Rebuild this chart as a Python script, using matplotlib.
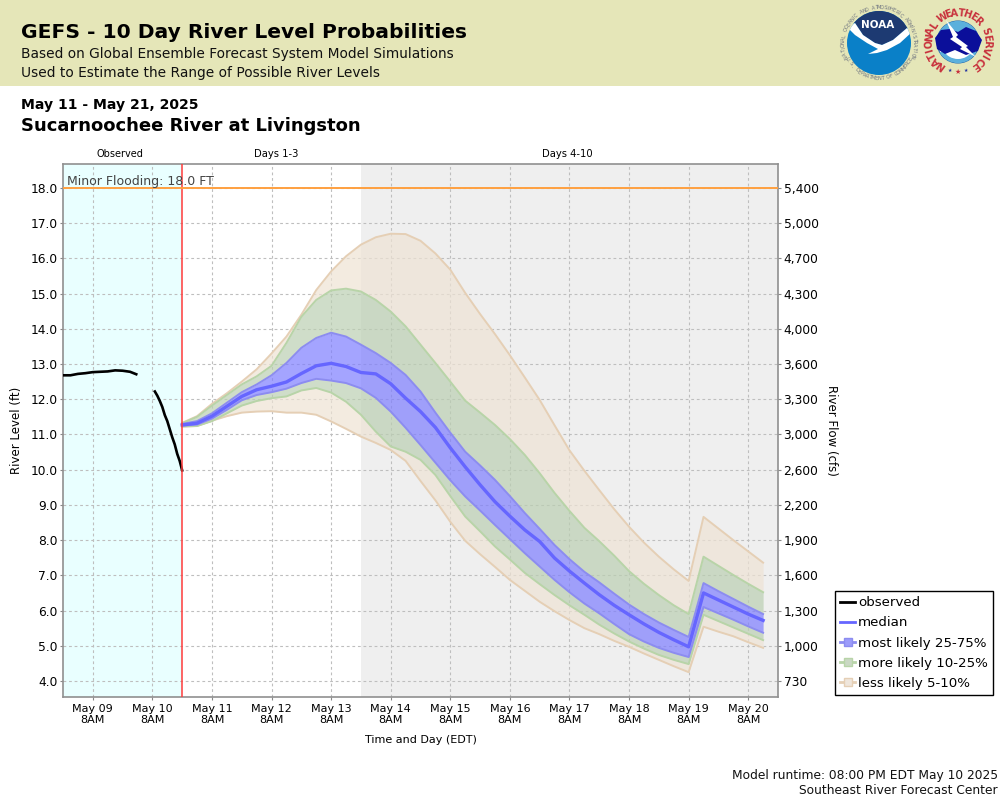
import matplotlib
matplotlib.use("Agg")
import numpy as np
import matplotlib.pyplot as plt
from matplotlib.lines import Line2D
from matplotlib.patches import Circle, Polygon, Rectangle, Wedge

# ---- data -------------------------------------------------------------
forecast_hours = [36, 42, 48, 54, 60, 66, 72, 78, 84, 90, 96, 102, 108, 114, 120, 126, 132, 138, 144, 150,
                  156, 162, 168, 174, 180, 186, 192, 198, 204, 210, 216, 222, 228, 234, 240, 246, 252, 258, 264, 270]
median = [11.27, 11.32, 11.52, 11.80, 12.08, 12.27, 12.37, 12.49, 12.73, 12.95, 13.02, 12.93, 12.76, 12.72, 12.44, 12.03, 11.65, 11.20, 10.62, 10.08,
          9.57, 9.09, 8.68, 8.29, 7.96, 7.49, 7.12, 6.78, 6.45, 6.15, 5.88, 5.62, 5.38, 5.17, 4.97, 6.50, 6.30, 6.10, 5.90, 5.72]
p75 = [11.30, 11.38, 11.60, 11.90, 12.20, 12.42, 12.68, 13.03, 13.46, 13.74, 13.89, 13.78, 13.55, 13.31, 13.03, 12.69, 12.22, 11.62, 11.05, 10.51,
       10.12, 9.71, 9.25, 8.77, 8.32, 7.86, 7.46, 7.10, 6.80, 6.48, 6.17, 5.90, 5.66, 5.45, 5.25, 6.78, 6.55, 6.33, 6.11, 5.90]
p25 = [11.25, 11.28, 11.45, 11.70, 11.97, 12.12, 12.20, 12.30, 12.46, 12.58, 12.53, 12.46, 12.31, 12.04, 11.65, 11.19, 10.70, 10.20, 9.70, 9.24,
       8.84, 8.43, 8.03, 7.63, 7.25, 6.87, 6.52, 6.20, 5.92, 5.62, 5.33, 5.12, 4.94, 4.80, 4.68, 6.10, 5.92, 5.74, 5.55, 5.37]
p90 = [11.32, 11.50, 11.82, 12.12, 12.42, 12.65, 12.95, 13.60, 14.34, 14.82, 15.09, 15.14, 15.06, 14.82, 14.49, 14.07, 13.55, 13.03, 12.50, 11.96,
       11.62, 11.27, 10.87, 10.42, 9.90, 9.34, 8.83, 8.35, 7.97, 7.56, 7.12, 6.76, 6.44, 6.15, 5.90, 7.53, 7.27, 7.01, 6.76, 6.52]
p10 = [11.23, 11.24, 11.38, 11.60, 11.82, 11.95, 12.03, 12.08, 12.25, 12.32, 12.19, 11.93, 11.56, 11.08, 10.66, 10.51, 10.28, 9.85, 9.25, 8.67,
       8.25, 7.82, 7.45, 7.07, 6.75, 6.44, 6.15, 5.88, 5.60, 5.35, 5.12, 4.92, 4.74, 4.60, 4.48, 5.88, 5.70, 5.52, 5.34, 5.16]
p95 = [11.33, 11.52, 11.87, 12.17, 12.50, 12.85, 13.30, 13.78, 14.40, 15.10, 15.63, 16.06, 16.39, 16.60, 16.70, 16.69, 16.50, 16.14, 15.68, 15.02,
       14.42, 13.85, 13.25, 12.62, 11.98, 11.26, 10.55, 9.97, 9.42, 8.88, 8.38, 7.93, 7.53, 7.17, 6.84, 8.66, 8.33, 8.00, 7.68, 7.36]
p05 = [11.22, 11.24, 11.39, 11.52, 11.62, 11.65, 11.66, 11.62, 11.62, 11.56, 11.37, 11.16, 10.94, 10.76, 10.56, 10.25, 9.68, 9.13, 8.52, 7.98,
       7.60, 7.24, 6.87, 6.56, 6.25, 5.98, 5.73, 5.50, 5.33, 5.14, 4.97, 4.78, 4.60, 4.42, 4.25, 5.54, 5.40, 5.27, 5.10, 4.94]
obs_hours_a = [-12, -9, -6, -3, 0, 3, 6, 9, 12, 15, 17.5]
obs_level_a = [12.68, 12.68, 12.72, 12.74, 12.77, 12.78, 12.79, 12.82, 12.81, 12.78, 12.71]
obs_hours_b = [25, 26, 27, 28, 29, 30, 31, 32, 33, 34, 35, 36]
obs_level_b = [12.22, 12.10, 11.95, 11.78, 11.55, 11.38, 11.15, 10.92, 10.72, 10.45, 10.25, 9.98]
flood_level = 18.0
level_ticks = [4, 5, 6, 7, 8, 9, 10, 11, 12, 13, 14, 15, 16, 17, 18]
flow_labels = ["730", "1,000", "1,300", "1,600", "1,900", "2,200", "2,600", "3,000",
               "3,300", "3,600", "4,000", "4,300", "4,700", "5,000", "5,400"]
day_hours = [0, 24, 48, 72, 96, 120, 144, 168, 192, 216, 240, 264]
day_labels = ["May 09", "May 10", "May 11", "May 12", "May 13", "May 14",
              "May 15", "May 16", "May 17", "May 18", "May 19", "May 20"]

# ---- colours ----------------------------------------------------------
TAN, TAN_E = "#EEE3D4", "#E5CFB5"
GREEN, GREEN_E = "#BBCFB2", "#B8D4A8"
BLUE, BLUE_E = "#7E7EFF", "#8C8CF0"
MED = "#6666FF"
plt.rcParams["font.family"] = "DejaVu Sans"

fig = plt.figure(figsize=(10, 8), dpi=100, facecolor="white")

# overlay in pixel coordinates for header, footer, logos
ov = fig.add_axes([0, 0, 1, 1], zorder=5)
ov.set_xlim(0, 1000)
ov.set_ylim(800, 0)
ov.axis("off")
ov.patch.set_alpha(0)
ov.add_patch(Rectangle((0, 0), 1000, 85.5, fc="#E5E6B8", ec="none", zorder=0))
ov.text(21, 33, "GEFS - 10 Day River Level Probabilities", fontsize=14.6, fontweight="bold", va="center")
ov.text(21, 54, "Based on Global Ensemble Forecast System Model Simulations", fontsize=9.95, va="center", color="#111111")
ov.text(21, 73, "Used to Estimate the Range of Possible River Levels", fontsize=9.95, va="center", color="#111111")
ov.text(21, 105, "May 11 - May 21, 2025", fontsize=10.05, fontweight="bold", va="center")
ov.text(21, 126, "Sucarnoochee River at Livingston", fontsize=12.95, fontweight="bold", va="center")
ov.text(998, 775, "Model runtime: 08:00 PM EDT May 10 2025", fontsize=8.8, ha="right", va="center", color="#111111")
ov.text(998, 791, "Southeast River Forecast Center", fontsize=8.8, ha="right", va="center", color="#111111")


def ring_text(s, cx, cy, r, mid, step, size, color, weight="normal", bottom=False):
    n = len(s)
    for i, ch in enumerate(s):
        off = (i - (n - 1) / 2) * step
        th = mid - off if bottom else mid + off
        t = np.radians(th)
        rot = 180 - th if bottom else -th
        ov.text(cx + r * np.sin(t), cy - r * np.cos(t), ch, rotation=rot, rotation_mode="anchor",
                ha="center", va="center", fontsize=size, color=color, fontweight=weight, zorder=6)


# NOAA logo
nx, ny = 879, 43
clip = Circle((nx, ny), 32, transform=ov.transData)
ov.add_patch(Circle((nx, ny), 32, fc="#0A80C8", ec="none", zorder=2))
navy = Polygon(np.array([[840, 0], [918, 0], [918, 24], [907, 28], [893, 40], [882, 45], [875, 43], [863, 35], [855, 23], [840, 24]]),
               fc="#1D3A72", ec="none", zorder=3)
ov.add_patch(navy)
navy.set_clip_path(clip)
bird = Polygon(np.array([[848, 28], [855, 23], [863, 35], [875, 43], [882, 45], [893, 40], [907, 28], [912, 32],
                         [900, 43], [887, 50], [877, 53], [868, 54], [878, 49], [867, 43], [855, 35]]),
               fc="white", ec="none", zorder=4)
ov.add_patch(bird)
bird.set_clip_path(clip)
ov.text(878, 25.5, "NOAA", color="white", fontsize=7.5, fontweight="bold", ha="center", va="center", zorder=6)
ring_text("NATIONAL OCEANIC AND ATMOSPHERIC ADMINISTRATION", nx, ny, 35.5, 0, 4.9, 3.6, "#6E7480")
ring_text("U.S. DEPARTMENT OF COMMERCE", nx, ny, 35.5, 180, 4.9, 3.6, "#6E7480", bottom=True)

# NWS logo
wx, wy = 958, 42
ov.add_patch(Circle((wx, wy), 21, fc="white", ec="#2A6FB0", lw=0.8, zorder=2))
ov.add_patch(Wedge((wx, wy), 21, 180, 360, fc="#5BB0DC", ec="none", zorder=3))
ov.add_patch(Wedge((wx, wy), 21, 30, 150, width=4, fc="#5BB0DC", ec="none", zorder=3))
cloud = Polygon(np.array([[935, 38], [941, 30], [950, 29], [958, 32], [966, 27], [976, 31], [982, 40],
                          [978, 51], [966, 55], [955, 50], [945, 54], [937, 49]]),
                fc="#0B0F9A", ec="none", zorder=4)
ov.add_patch(cloud)
bolt = Polygon(np.array([[946, 20], [958, 35], [956, 37], [968, 46], [966, 47], [976, 57], [960, 49], [962, 47], [950, 39], [953, 37]]),
               fc="white", ec="none", zorder=5)
ov.add_patch(bolt)
ring_text("NATIONAL WEATHER SERVICE", wx, wy, 29, 0, 12.5, 7, "#C8303C", weight="bold")
ov.text(950, 70.5, "★", color="#2030A0", fontsize=3.5, ha="center", va="center", zorder=6)
ov.text(958, 71.5, "★", color="#C8303C", fontsize=5, ha="center", va="center", zorder=6)
ov.text(966, 70.5, "★", color="#2030A0", fontsize=3.5, ha="center", va="center", zorder=6)

# ---- main chart -------------------------------------------------------
ax = fig.add_axes([63 / 1000, (800 - 697) / 800, 715 / 1000, 533 / 800], zorder=2)
ax.set_xlim(-12, 276)
ax.set_ylim(3.545, 18.68)
ax.set_facecolor("white")
ax.axvspan(-12, 36, color="#E9FFFF", lw=0, zorder=0)
ax.axvspan(108, 276, color="#EFEFEF", lw=0, zorder=0)

ax.set_axisbelow(True)
ax.grid(True, color="#BEBEBE", ls=(0, (2.5, 2.5)), lw=0.8, zorder=1)
ax.set_xticks(day_hours)
ax.set_xticklabels([f"{d}\n8AM" for d in day_labels], fontsize=8, linespacing=1.15)
ax.set_yticks(level_ticks)
ax.set_yticklabels([f"{v:.1f}" for v in level_ticks], fontsize=8.85)
ax.tick_params(axis="y", length=2, width=0.8, color="#888888", pad=2)
ax.tick_params(axis="x", length=2, width=0.8, color="#888888", pad=3)
ax.set_xlabel("Time and Day (EDT)", fontsize=8)
ax.xaxis.set_label_coords(0.5, -0.071)
ax.set_ylabel("River Level (ft)", fontsize=8.5)
ax.yaxis.set_label_coords(-0.056, 0.5)
for s in ax.spines.values():
    s.set_color("#909090")
    s.set_linewidth(1.2)

for lo, hi, col, edge in [(p05, p10, TAN, TAN_E), (p90, p95, TAN, TAN_E),
                          (p10, p25, GREEN, GREEN_E), (p75, p90, GREEN, GREEN_E),
                          (p25, p75, BLUE, BLUE_E)]:
    ax.fill_between(forecast_hours, lo, hi, color=col, alpha=0.7, lw=0, zorder=2)
for ser, edge in [(p05, TAN_E), (p95, TAN_E), (p10, GREEN_E), (p90, GREEN_E), (p25, BLUE_E), (p75, BLUE_E)]:
    ax.plot(forecast_hours, ser, color=edge, lw=1.4, zorder=3, solid_joinstyle="round")
ax.plot(forecast_hours, median, color=MED, lw=2.4, zorder=4, solid_joinstyle="round")
ax.plot(obs_hours_a, obs_level_a, color="black", lw=1.9, zorder=5)
ax.plot(obs_hours_b, obs_level_b, color="black", lw=1.9, zorder=5)
ax.axvline(36, color="#FF3B3B", lw=1.1, zorder=6)
ax.axhline(flood_level, color="#FFA040", lw=1.4, zorder=6)
ax.text(-10.4, flood_level + 0.18, "Minor Flooding: 18.0 FT", fontsize=9, color="#444444", va="center", zorder=7)

sec = ax.get_xaxis_transform()
ax.text(11, 1.019, "Observed", transform=sec, fontsize=7, ha="center", va="center")
ax.text(74, 1.019, "Days 1-3", transform=sec, fontsize=7.2, ha="center", va="center")
ax.text(191, 1.019, "Days 4-10", transform=sec, fontsize=7.2, ha="center", va="center")

ax2 = ax.twinx()
ax2.set_ylim(ax.get_ylim())
ax2.set_yticks(level_ticks)
ax2.set_yticklabels(flow_labels, fontsize=8.85)
ax2.tick_params(axis="y", length=2, width=0.8, color="#888888", pad=2)
ax2.set_ylabel("River Flow (cfs)", fontsize=8.5, rotation=270)
ax2.yaxis.set_label_coords(1.084, 0.5)
for s in ax2.spines.values():
    s.set_visible(False)

handles = [
    Line2D([], [], color="black", lw=2),
    Line2D([], [], color=MED, lw=2),
    Line2D([], [], color=BLUE_E, lw=2, marker="s", ms=6, mfc="#9C9CFA", mec=BLUE_E),
    Line2D([], [], color=GREEN_E, lw=2, marker="s", ms=6, mfc="#CAD8C4", mec=GREEN_E),
    Line2D([], [], color=TAN_E, lw=2, marker="s", ms=6, mfc="#EFE6DC", mec=TAN_E),
]
labels = ["observed", "median", "most likely 25-75%", "more likely 10-25%", "less likely 5-10%"]
leg = fig.legend(handles, labels, loc="lower left", bbox_to_anchor=(835 / 1000, 105 / 800), fontsize=9.65,
                 frameon=True, fancybox=False, framealpha=1, edgecolor="black", borderaxespad=0,
                 handlelength=1.15, handletextpad=0.22, labelspacing=0.54, borderpad=0.36)
leg.get_frame().set_linewidth(1.0)
leg.set_zorder(10)

fig.savefig("out.png", dpi=100)
